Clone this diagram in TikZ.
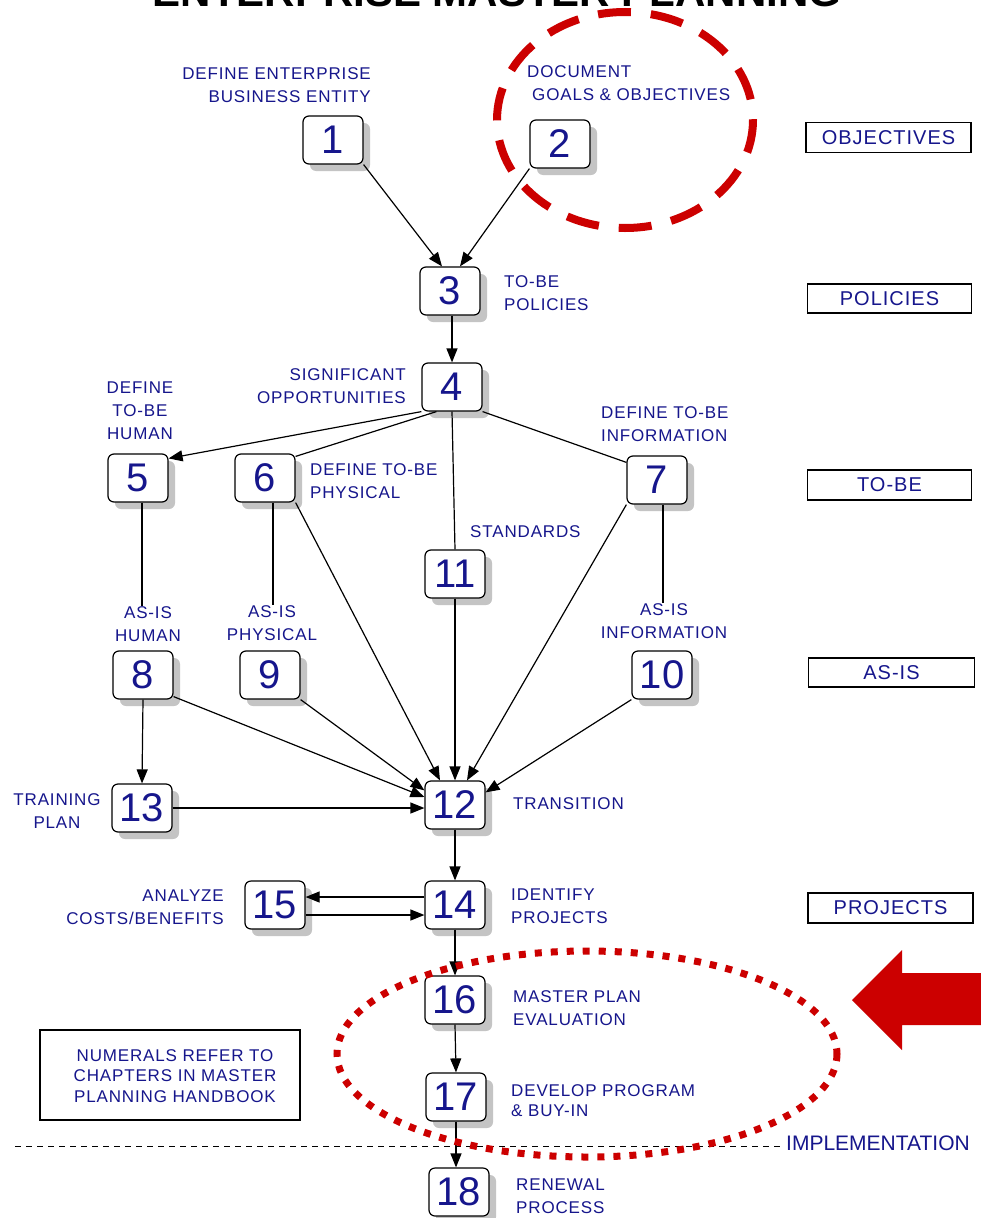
\documentclass[tikz,border=0pt]{standalone}
\usepackage{fontspec}
\setmainfont{Liberation Sans}
\newfontfamily\spaced[LetterSpace=5]{Liberation Sans}
\usetikzlibrary{arrows.meta,shadows}
\definecolor{navy}{RGB}{22,22,140}
\definecolor{markred}{RGB}{204,0,0}
\definecolor{shade}{RGB}{196,196,196}

\begin{document}
\begin{tikzpicture}[x=1pt,y=-1pt,
  chap/.style={draw, line width=1.2pt, rounded corners=6pt, fill=white,
    minimum width=60pt, minimum height=48pt, inner sep=0pt, text=navy,
    font=\fontsize{40}{40}\selectfont,
    drop shadow={shadow xshift=7pt, shadow yshift=-7pt, fill=shade, opacity=1}},
  lbl/.style={text=navy, font=\spaced\fontsize{17}{23}\selectfont, inner sep=0pt},
  phase/.style={draw, line width=1.6pt, text=navy, font=\spaced\fontsize{20}{20}\selectfont,
    minimum width=164pt, minimum height=30pt, inner sep=0pt},
  link/.style={line width=1.2pt},
  flow/.style={link, -{Triangle[length=14pt,width=11pt]}}
]
\useasboundingbox (0,0) rectangle (981,1218);
\fill[white] (0,0) rectangle (981,1218);

% heading, cut by the page edge
\begin{scope}
  \clip (0,0) rectangle (981,1218);
  \node[anchor=base, inner sep=0pt, font=\fontsize{42}{42}\selectfont\bfseries] (title) at (497,6) {ENTERPRISE MASTER PLANNING};
\end{scope}

% chapter boxes
\node[chap] (n1) at (333,140) {1};
\node[chap] (n2) at (560,144) {2};
\node[chap] (n3) at (450,291) {3};
\node[chap] (n4) at (452,387) {4};
\node[chap] (n5) at (138,478) {5};
\node[chap] (n6) at (265,478) {6};
\node[chap] (n7) at (657,480) {7};
\node[chap] (n11) at (455,574) {11};
\node[chap] (n8) at (143,675) {8};
\node[chap] (n9) at (270,675) {9};
\node[chap] (n10) at (662,675) {10};
\node[chap] (n12) at (455,805) {12};
\node[chap] (n13) at (142,808) {13};
\node[chap] (n15) at (275,905) {15};
\node[chap] (n14) at (455,905) {14};
\node[chap] (n16) at (455,1000) {16};
\node[chap] (n17) at (456,1097) {17};
\node[chap] (n18) at (459,1192) {18};

% chapter captions
\node[lbl, anchor=east, align=right] (l1) at (371,85) {DEFINE ENTERPRISE\\BUSINESS ENTITY};
\node[lbl, anchor=west, align=left] (l2) at (527,83) {DOCUMENT\\\hspace*{5pt}GOALS \& OBJECTIVES};
\node[lbl, anchor=west, align=left] (l3) at (504,293) {TO-BE\\POLICIES};
\node[lbl, anchor=east, align=right] (l4) at (406,386) {SIGNIFICANT\\OPPORTUNITIES};
\node[lbl, align=center] (l5) at (140,411) {DEFINE\\TO-BE\\HUMAN};
\node[lbl, anchor=west, align=left] (l6) at (310,481) {DEFINE TO-BE\\PHYSICAL};
\node[lbl, anchor=west, align=left] (l7) at (601,424) {DEFINE TO-BE\\INFORMATION};
\node[lbl, anchor=west] (l11) at (470,532) {STANDARDS};
\node[lbl, align=center] (l8) at (148,624) {AS-IS\\HUMAN};
\node[lbl, align=center] (l9) at (272,623) {AS-IS\\PHYSICAL};
\node[lbl, align=center] (l10) at (664,621) {AS-IS\\INFORMATION};
\node[lbl, align=center] (l13) at (57,811) {TRAINING\\PLAN};
\node[lbl, anchor=west] (l12) at (513,804) {TRANSITION};
\node[lbl, anchor=east, align=right] (l15) at (224,907) {ANALYZE\\COSTS/BENEFITS};
\node[lbl, anchor=west, align=left] (l14) at (511,906) {IDENTIFY\\PROJECTS};
\node[lbl, anchor=west, align=left] (l16) at (513,1008) {MASTER PLAN\\EVALUATION};
\node[lbl, anchor=west, align=left, font=\spaced\fontsize{17}{20}\selectfont] (l17) at (511,1101) {DEVELOP PROGRAM\\\& BUY-IN};
\node[lbl, anchor=west, align=left] (l18) at (516,1196) {RENEWAL\\PROCESS};

% phase boxes on the right
\node[phase, minimum width=165pt] (pObj) at (888.5,137.5) {OBJECTIVES};
\node[phase, minimum height=29pt] (pPol) at (889.5,298.5) {POLICIES};
\node[phase] (pTob) at (889.5,485) {TO-BE};
\node[phase, minimum width=166pt, minimum height=29pt] (pAsis) at (891.5,672.5) {AS-IS};
\node[phase, minimum width=165pt] (pProj) at (890.5,908) {PROJECTS};

% note box
\node[draw, line width=1.6pt, minimum width=260pt, minimum height=90pt, inner sep=0pt] (note) at (170,1075) {};
\node[lbl, align=center, font=\spaced\fontsize{17}{20.5}\selectfont] (noteText) at (175,1076) {NUMERALS REFER TO\\CHAPTERS IN MASTER\\PLANNING HANDBOOK};

% implementation boundary
\node[anchor=west, inner sep=0pt, text=navy, font=\fontsize{21}{21}\selectfont] (impl) at (786,1143) {IMPLEMENTATION};
\coordinate (implStart) at (15,1146);
\draw[line width=1pt, dash pattern=on 6pt off 5pt] (implStart) -- ([xshift=-6pt]implStart -| impl.west);

% connectors
\draw[flow] (n1.south east) -- ([xshift=-8pt]n3.north);
\draw[flow] (n2.south west) -- ([xshift=10pt]n3.north);
\draw[flow] ([xshift=2pt]n3.south) -- (n4.north);
\draw[flow] (n4.south west) -- ([yshift=-5pt]n5.north east);
\draw[link] ([xshift=15pt]n4.south west) -- ([yshift=-3pt]n6.north east);
\draw[link] (n4.south east) -- ([yshift=-7pt]n7.north west);
\draw[link] (n4.south) -- (n11.north);
\coordinate (c5) at ([xshift=4pt]n5.south);
\coordinate (c6) at ([xshift=8pt]n6.south);
\coordinate (c7) at ([xshift=6pt]n7.south);
\draw[link] (c5) -- (c5 |- l8.north);
\draw[link] (c6) -- (c6 |- l9.north);
\draw[link] (c7) -- (c7 |- l10.north);
\draw[flow] (n6.south east) -- ([xshift=-15pt]n12.north);
\draw[flow] (n7.south west) -- ([xshift=12pt]n12.north);
\draw[flow] (n11.south) -- (n12.north);
\draw[flow] ([yshift=3pt]n8.south east) -- ([yshift=8pt]n12.west);
\draw[flow] (n9.south east) -- ([yshift=-10pt]n12.north west);
\draw[flow] (n10.south west) -- ([yshift=-12pt]n12.north east);
\draw[flow] (n8.south) -- (n13.north);
\draw[flow] (n13.east) -- (n13.east -| n12.west);
\draw[flow] (n12.south) -- (n14.north);
\draw[flow] ([yshift=8pt]n14.west) -- ([yshift=8pt]n15.east);
\draw[flow] ([yshift=-10pt]n15.east) -- ([yshift=-10pt]n14.west);
\draw[flow] (n14.south) -- (n16.north);
\draw[flow] (n16.south) -- (n17.north);
\draw[flow] (n17.south) -- (n17.south |- n18.north);

% red highlights
\draw[markred, line width=8pt, dash pattern=on 33pt off 20pt] (625,120) ellipse [x radius=128, y radius=108];
\draw[markred, line width=7pt, dash pattern=on 7pt off 9pt] (587,1054) ellipse [x radius=250, y radius=103];
\fill[markred] (852,1000) -- (902,950) -- (902,973) -- (981,973) -- (981,1025) -- (902,1025) -- (902,1050) -- cycle;
\end{tikzpicture}
\end{document}
